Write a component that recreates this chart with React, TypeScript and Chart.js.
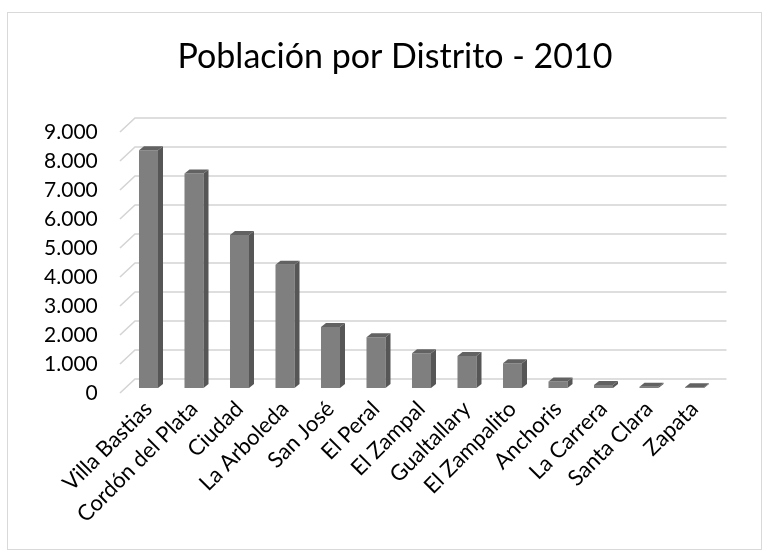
import React, { useEffect, useRef } from "react";
import { Chart, registerables } from "chart.js";

Chart.register(...registerables);

const titleText = "Población por Distrito - 2010";
const categories = [
  "Villa Bastias",
  "Cordón del Plata",
  "Ciudad",
  "La Arboleda",
  "San José",
  "El Peral",
  "El Zampal",
  "Gualtallary",
  "El Zampalito",
  "Anchoris",
  "La Carrera",
  "Santa Clara",
  "Zapata",
];
const population = [8200, 7400, 5280, 4250, 2100, 1750, 1200, 1100, 850, 220, 100, 40, 30];
const yTickValues = [0, 1000, 2000, 3000, 4000, 5000, 6000, 7000, 8000, 9000];

const FONT = "Lato, 'Open Sans', sans-serif";

function fmt(v: number): string {
  return String(Math.round(v)).replace(/\B(?=(\d{3})+(?!\d))/g, ".");
}

// depth offsets relative to the bar plane
const BACK_DX = 9.25;
const BACK_DY = -9;
const FRONT_DX = -5.75;
const FRONT_DY = 5;
const BAR_DX = 5;
const BAR_DY = -4;

// plot geometry (canvas px)
const W = 769;
const PLOT_LEFT = 125.75;
const PLOT_RIGHT = 717.25;
const TITLE_CENTER = 395;
// title box spans [0, 2*TITLE_CENTER]; right padding may be negative
const PAD_RIGHT = W - 2 * TITLE_CENTER;
const RIGHT_AXIS_W = 2 * TITLE_CENTER - PLOT_RIGHT;

const wallsPlugin = {
  id: "walls3d",
  beforeDatasetsDraw(chart: any) {
    const { ctx, chartArea, scales } = chart;
    const y = scales.y;
    ctx.save();
    ctx.strokeStyle = "#d4d4d4";
    ctx.lineWidth = 1.6;
    ctx.lineCap = "butt";
    for (const v of yTickValues) {
      const yb = y.getPixelForValue(v);
      ctx.beginPath();
      ctx.moveTo(chartArea.left + FRONT_DX, yb + FRONT_DY);
      ctx.lineTo(chartArea.left + BACK_DX, yb + BACK_DY);
      ctx.lineTo(chartArea.right + BACK_DX, yb + BACK_DY);
      ctx.stroke();
    }
    ctx.restore();
  },
  afterDatasetsDraw(chart: any) {
    const { ctx } = chart;
    const meta = chart.getDatasetMeta(0);
    ctx.save();
    meta.data.forEach((bar: any) => {
      const p = bar.getProps(["x", "y", "base", "width"], true);
      const l = p.x - p.width / 2;
      const r = p.x + p.width / 2;
      const t = Math.min(p.y, p.base);
      const b = Math.max(p.y, p.base);
      // side face
      ctx.fillStyle = "#565656";
      ctx.beginPath();
      ctx.moveTo(r, t);
      ctx.lineTo(r + BAR_DX, t + BAR_DY);
      ctx.lineTo(r + BAR_DX, b + BAR_DY);
      ctx.lineTo(r, b);
      ctx.closePath();
      ctx.fill();
      // top face
      ctx.fillStyle = "#626262";
      ctx.beginPath();
      ctx.moveTo(l, t);
      ctx.lineTo(l + BAR_DX, t + BAR_DY);
      ctx.lineTo(r + BAR_DX, t + BAR_DY);
      ctx.lineTo(r, t);
      ctx.closePath();
      ctx.fill();
    });
    ctx.restore();
  },
};

export default function App() {
  const ref = useRef<HTMLCanvasElement | null>(null);

  useEffect(() => {
    if (!ref.current) return;
    const chart = new Chart(ref.current, {
      type: "bar",
      data: {
        labels: categories,
        datasets: [
          {
            data: population,
            backgroundColor: "#7f7f7f",
            borderWidth: 0,
            barPercentage: 0.4176,
            categoryPercentage: 1,
            yAxisID: "y",
          },
        ],
      },
      plugins: [wallsPlugin],
      options: {
        animation: false,
        responsive: false,
        maintainAspectRatio: false,
        devicePixelRatio: 1,
        layout: { padding: { left: 0, right: PAD_RIGHT, top: 12, bottom: 0 } },
        plugins: {
          legend: { display: false },
          tooltip: { enabled: false },
          title: {
            display: true,
            text: titleText,
            color: "#000000",
            font: { family: FONT, size: 34, weight: "normal" },
            padding: { top: 25, bottom: 49.2 },
          },
        },
        scales: {
          x: {
            offset: true,
            grid: { display: false, drawTicks: false },
            border: { display: false },
            ticks: {
              autoSkip: false,
              minRotation: 45,
              maxRotation: 45,
              padding: 8,
              color: "#000000",
              font: { family: FONT, size: 22 },
            },
            afterFit: (scale: any) => {
              scale.height = 169;
            },
          },
          y: {
            position: "left",
            min: 0,
            max: 9000,
            grid: { display: false, drawTicks: false },
            border: { display: false },
            ticks: {
              stepSize: 1000,
              padding: 28,
              labelOffset: 5,
              color: "#000000",
              font: { family: FONT, size: 21 },
              callback: (v: any) => fmt(Number(v)),
            },
            afterFit: (scale: any) => {
              scale.width = PLOT_LEFT;
            },
          },
          yRightSpacer: {
            type: "linear",
            position: "right",
            min: 0,
            max: 9000,
            grid: { display: false, drawTicks: false },
            border: { display: false },
            ticks: { display: false },
            afterFit: (scale: any) => {
              scale.width = RIGHT_AXIS_W;
            },
          },
        },
      },
    });
    return () => chart.destroy();
  }, []);

  return (
    <div style={{ position: "absolute", left: 0, top: 0, width: 769, height: 557, background: "#ffffff" }}>
      <div
        style={{
          position: "absolute",
          left: 7,
          top: 12,
          width: 755,
          height: 538,
          border: "1px solid #d9d9d9",
          boxSizing: "border-box",
        }}
      />
      <canvas ref={ref} width={769} height={557} style={{ position: "absolute", left: 0, top: 0, width: 769, height: 557 }} />
    </div>
  );
}
